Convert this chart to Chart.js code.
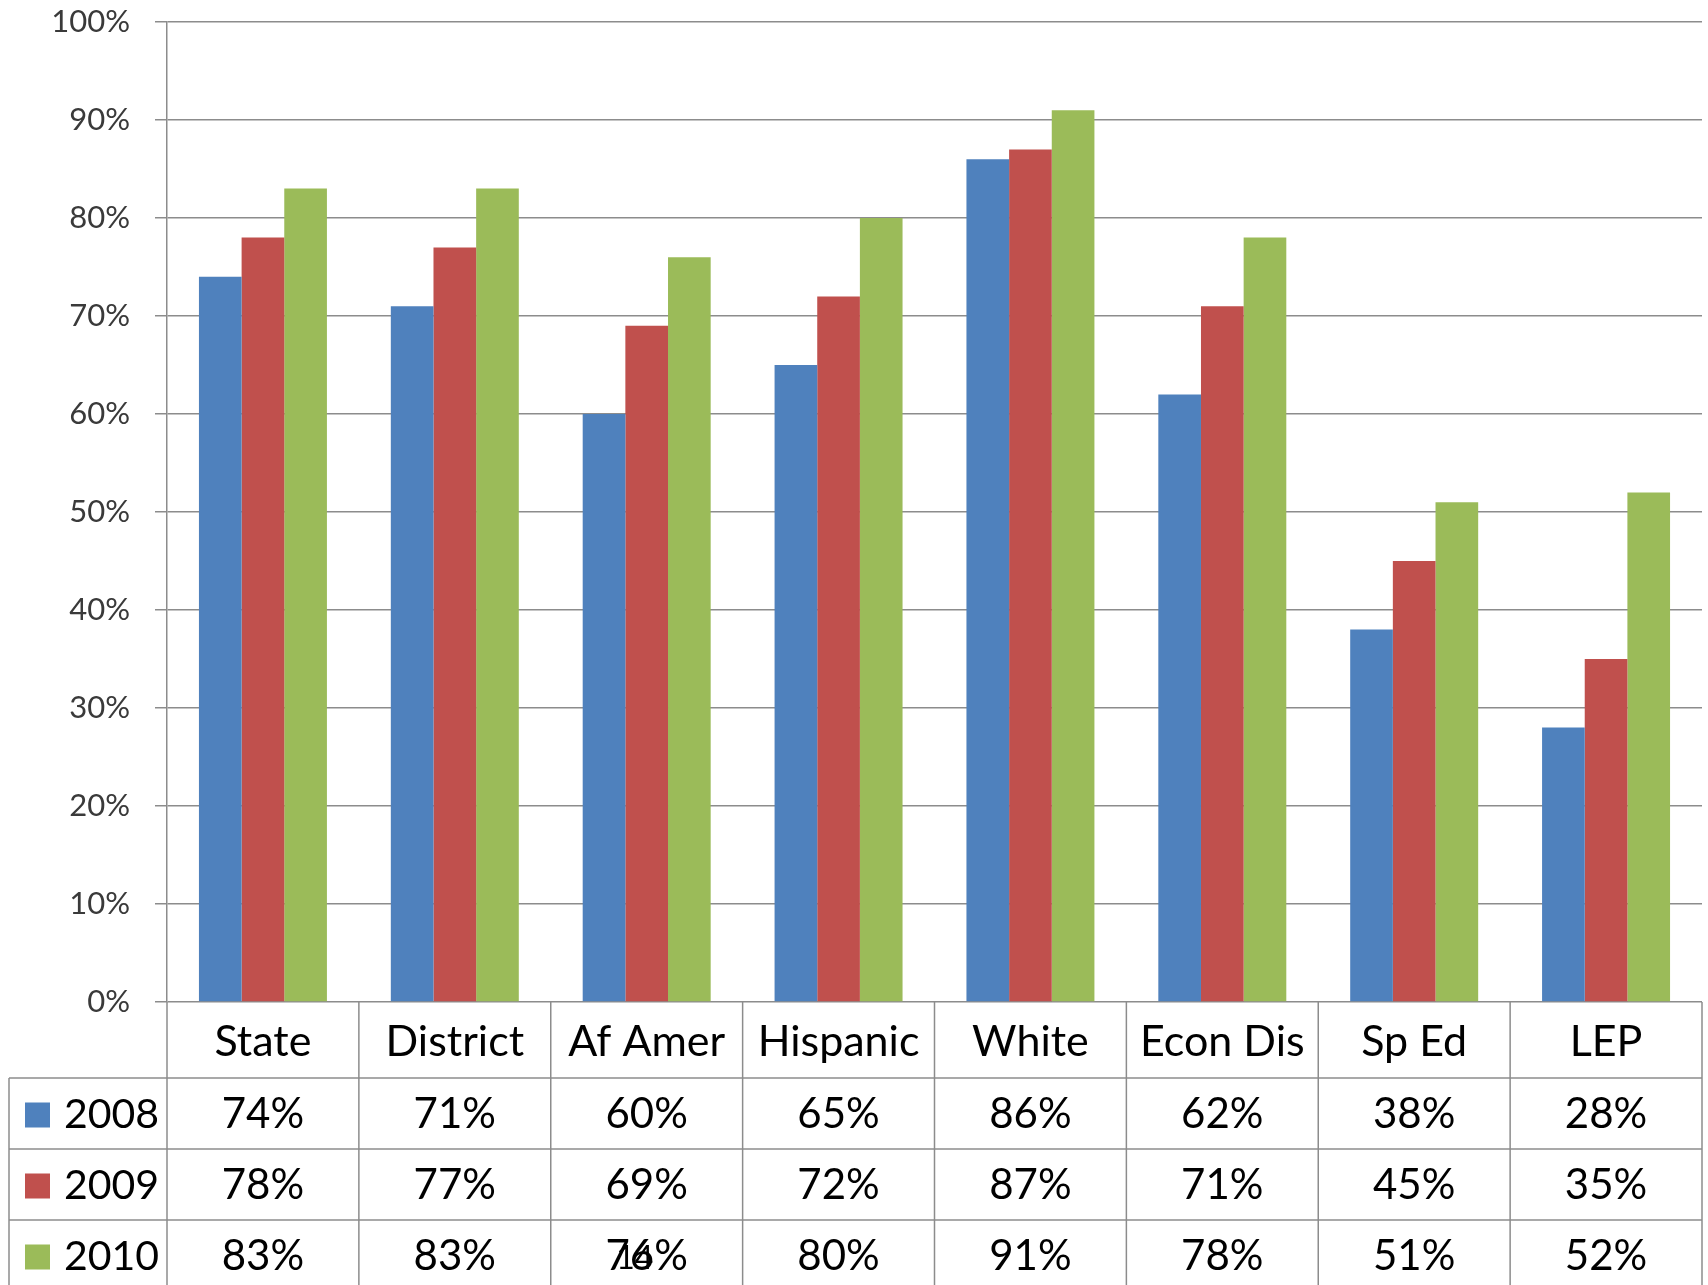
<!DOCTYPE html>
<html>
<head>
<meta charset="utf-8">
<script src="https://cdn.jsdelivr.net/npm/chart.js@4/dist/chart.umd.min.js"></script>
<style>
  html, body { margin: 0; padding: 0; background: #fff; }
  canvas { display: block; }
</style>
</head>
<body>
<canvas id="myChart" width="1708" height="1285"></canvas>
<script>
const categories = ['State', 'District', 'Af Amer', 'Hispanic', 'White', 'Econ Dis', 'Sp Ed', 'LEP'];
const years = ['2008', '2009', '2010'];
const values2008 = [74, 71, 60, 65, 86, 62, 38, 28];
const values2009 = [78, 77, 69, 72, 87, 71, 45, 35];
const values2010 = [83, 83, 76, 80, 91, 78, 51, 52];
const colors = ['#4F81BD', '#C0504D', '#9BBB59'];
const yTicks = [0, 10, 20, 30, 40, 50, 60, 70, 80, 90, 100];
const pageNumber = '14';

const seriesValues = [values2008, values2009, values2010];
const lineColor = '#8c8c8c';
const fontFamily = 'Lato, "Open Sans", sans-serif';

// data table drawn under the plot, one column per category
const dataTable = {
  id: 'dataTable',
  afterDraw(chart) {
    const c = chart.ctx;
    const x = chart.scales.x;
    const area = chart.chartArea;
    const half = (x.getPixelForValue(1) - x.getPixelForValue(0)) / 2;
    const headerH = 76;
    const rowH = 71;
    const tableLeft = 9;
    const bottom = chart.height;

    c.save();
    c.strokeStyle = lineColor;
    c.lineWidth = 1.5;

    // horizontal row lines
    for (let r = 0; r < years.length; r++) {
      const y = area.bottom + headerH + r * rowH;
      c.beginPath();
      c.moveTo(tableLeft, y);
      c.lineTo(area.right, y);
      c.stroke();
    }
    // left border of legend column
    c.beginPath();
    c.moveTo(tableLeft, area.bottom + headerH);
    c.lineTo(tableLeft, bottom);
    c.stroke();
    // column separators
    c.beginPath();
    c.moveTo(area.left, area.bottom);
    c.lineTo(area.left, bottom);
    c.stroke();
    categories.forEach((cat, i) => {
      const xr = x.getPixelForValue(i) + half;
      c.beginPath();
      c.moveTo(xr, area.bottom);
      c.lineTo(xr, bottom);
      c.stroke();
    });

    // header labels
    c.fillStyle = '#000';
    c.textAlign = 'center';
    c.textBaseline = 'middle';
    c.font = '43px ' + fontFamily;
    categories.forEach((cat, i) => {
      c.fillText(cat, x.getPixelForValue(i), area.bottom + headerH / 2 + 2);
    });

    // value rows + legend keys
    years.forEach((yr, r) => {
      const yc = area.bottom + headerH + r * rowH + rowH / 2 + 1;
      c.fillStyle = colors[r];
      c.fillRect(25, yc - 12, 25, 25);
      c.fillStyle = '#000';
      c.textAlign = 'left';
      c.font = '41px ' + fontFamily;
      c.fillText(yr, 64, yc);
      c.textAlign = 'center';
      c.font = '42px ' + fontFamily;
      seriesValues[r].forEach((v, i) => {
        c.fillText(v + '%', x.getPixelForValue(i), yc);
      });
    });

    // stray slide number over the Af Amer 2010 cell
    c.font = '32px ' + fontFamily;
    c.fillText(pageNumber, x.getPixelForValue(2) - 12, area.bottom + headerH + 2 * rowH + rowH / 2 + 3);
    c.restore();
  }
};

const ctx = document.getElementById('myChart').getContext('2d');
const myChart = new Chart(ctx, {
  type: 'bar',
  data: {
    labels: categories,
    datasets: years.map((yr, r) => ({
      label: yr,
      data: seriesValues[r],
      backgroundColor: colors[r],
      borderWidth: 0,
      barPercentage: 1,
      categoryPercentage: 0.667
    }))
  },
  options: {
    responsive: false,
    animation: false,
    layout: { padding: { top: 22, right: 6, left: 0, bottom: 0 } },
    plugins: { legend: { display: false }, tooltip: { enabled: false } },
    scales: {
      x: {
        grid: { display: false },
        border: { display: false },
        ticks: { display: false },
        afterFit: (s) => { s.height = 283; }
      },
      y: {
        min: 0,
        max: 100,
        afterBuildTicks: (s) => { s.ticks = yTicks.map(v => ({ value: v })); },
        ticks: {
          callback: (v) => v + '%',
          color: '#3a3a3a',
          padding: 25,
          font: { family: fontFamily, size: 31 }
        },
        grid: { color: lineColor, lineWidth: 1.5, tickLength: 12 },
        border: { color: lineColor, width: 1.5 },
        afterFit: (s) => {
          s.width = 167;
          s.paddingTop = 0;
          s.paddingBottom = 0;
        }
      }
    }
  },
  plugins: [dataTable]
});
</script>
</body>
</html>
